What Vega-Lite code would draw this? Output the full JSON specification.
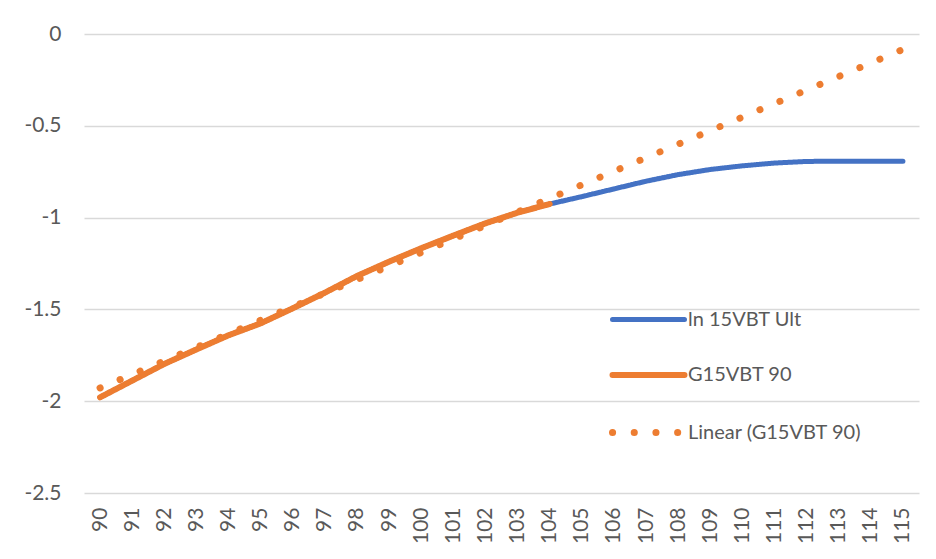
{
  "$schema": "https://vega.github.io/schema/vega-lite/v6.json",
  "width": 835,
  "height": 459,
  "autosize": {"type": "none"},
  "padding": {"left": 84, "top": 34, "right": 17, "bottom": 66},
  "background": "white",
  "config": {
    "view": {"stroke": null},
    "font": "Lato",
    "axis": {"labelFont": "Lato", "labelColor": "#595959", "labelFontSize": 21}
  },
  "datasets": {
    "series": [
      {"age": 90, "series": "ln 15VBT Ult", "value": -1.979},
      {"age": 91, "series": "ln 15VBT Ult", "value": -1.888},
      {"age": 92, "series": "ln 15VBT Ult", "value": -1.797},
      {"age": 93, "series": "ln 15VBT Ult", "value": -1.718},
      {"age": 94, "series": "ln 15VBT Ult", "value": -1.641},
      {"age": 95, "series": "ln 15VBT Ult", "value": -1.576},
      {"age": 96, "series": "ln 15VBT Ult", "value": -1.494},
      {"age": 97, "series": "ln 15VBT Ult", "value": -1.409},
      {"age": 98, "series": "ln 15VBT Ult", "value": -1.318},
      {"age": 99, "series": "ln 15VBT Ult", "value": -1.240},
      {"age": 100, "series": "ln 15VBT Ult", "value": -1.167},
      {"age": 101, "series": "ln 15VBT Ult", "value": -1.098},
      {"age": 102, "series": "ln 15VBT Ult", "value": -1.031},
      {"age": 103, "series": "ln 15VBT Ult", "value": -0.973},
      {"age": 104, "series": "ln 15VBT Ult", "value": -0.926},
      {"age": 105, "series": "ln 15VBT Ult", "value": -0.886},
      {"age": 106, "series": "ln 15VBT Ult", "value": -0.844},
      {"age": 107, "series": "ln 15VBT Ult", "value": -0.802},
      {"age": 108, "series": "ln 15VBT Ult", "value": -0.766},
      {"age": 109, "series": "ln 15VBT Ult", "value": -0.738},
      {"age": 110, "series": "ln 15VBT Ult", "value": -0.718},
      {"age": 111, "series": "ln 15VBT Ult", "value": -0.703},
      {"age": 112, "series": "ln 15VBT Ult", "value": -0.694},
      {"age": 113, "series": "ln 15VBT Ult", "value": -0.693},
      {"age": 114, "series": "ln 15VBT Ult", "value": -0.693},
      {"age": 115, "series": "ln 15VBT Ult", "value": -0.693},
      {"age": 90, "series": "G15VBT 90", "value": -1.979},
      {"age": 91, "series": "G15VBT 90", "value": -1.888},
      {"age": 92, "series": "G15VBT 90", "value": -1.797},
      {"age": 93, "series": "G15VBT 90", "value": -1.718},
      {"age": 94, "series": "G15VBT 90", "value": -1.641},
      {"age": 95, "series": "G15VBT 90", "value": -1.576},
      {"age": 96, "series": "G15VBT 90", "value": -1.494},
      {"age": 97, "series": "G15VBT 90", "value": -1.409},
      {"age": 98, "series": "G15VBT 90", "value": -1.318},
      {"age": 99, "series": "G15VBT 90", "value": -1.240},
      {"age": 100, "series": "G15VBT 90", "value": -1.167},
      {"age": 101, "series": "G15VBT 90", "value": -1.098},
      {"age": 102, "series": "G15VBT 90", "value": -1.031},
      {"age": 103, "series": "G15VBT 90", "value": -0.973},
      {"age": 104, "series": "G15VBT 90", "value": -0.926},
      {"age": 90, "series": "Linear (G15VBT 90)", "value": -1.928},
      {"age": 115, "series": "Linear (G15VBT 90)", "value": -0.084}
    ]
  },
  "data": {"name": "series"},
  "encoding": {
    "x": {
      "field": "age",
      "type": "ordinal",
      "scale": {"type": "point", "padding": 0.5, "domain": [90, 91, 92, 93, 94, 95, 96, 97, 98, 99, 100, 101, 102, 103, 104, 105, 106, 107, 108, 109, 110, 111, 112, 113, 114, 115]},
      "axis": {
        "title": null,
        "labelAngle": -90,
        "labelPadding": 14,
        "ticks": false,
        "domain": false,
        "grid": false
      }
    },
    "y": {
      "field": "value",
      "type": "quantitative",
      "scale": {"domain": [-2.5, 0], "nice": false, "zero": false},
      "axis": {
        "title": null,
        "values": [-2.5, -2, -1.5, -1, -0.5, 0],
        "labelExpr": "toString(datum.value)",
        "ticks": false,
        "domain": false,
        "labelPadding": 23,
        "gridColor": "#d9d9d9",
        "gridWidth": 1.5
      }
    },
    "color": {
      "field": "series",
      "type": "nominal",
      "scale": {
        "domain": ["ln 15VBT Ult", "G15VBT 90", "Linear (G15VBT 90)"],
        "range": ["#4472C4", "#ED7D31", "#ED7D31"]
      },
      "legend": {
        "title": null,
        "orient": "none",
        "legendX": 525,
        "legendY": 247,
        "symbolType": "stroke",
        "symbolSize": 5184,
        "labelFont": "Lato",
        "labelFontSize": 20,
        "labelColor": "#595959",
        "labelOffset": 0,
        "labelLimit": 0,
        "rowPadding": 6,
        "encoding": {"symbols": {"strokeCap": {"value": "round"}}}
      }
    },
    "strokeWidth": {
      "field": "series",
      "type": "nominal",
      "scale": {
        "domain": ["ln 15VBT Ult", "G15VBT 90", "Linear (G15VBT 90)"],
        "range": [5, 7, 10]
      },
      "legend": null
    },
    "strokeDash": {
      "field": "series",
      "type": "nominal",
      "scale": {
        "domain": ["ln 15VBT Ult", "G15VBT 90", "Linear (G15VBT 90)"],
        "range": [[1, 0], [1, 0], [0.1, 21.6]]
      },
      "legend": null
    }
  },
  "layer": [
    {
      "transform": [{"filter": "datum.series === 'ln 15VBT Ult'"}],
      "mark": {"type": "line", "strokeCap": "round", "strokeJoin": "round"}
    },
    {
      "transform": [{"filter": "datum.series === 'G15VBT 90'"}],
      "mark": {"type": "line", "strokeCap": "round", "strokeJoin": "round"}
    },
    {
      "transform": [{"filter": "datum.series === 'Linear (G15VBT 90)'"}],
      "mark": {"type": "line", "strokeCap": "round", "strokeJoin": "round"}
    }
  ]
}
